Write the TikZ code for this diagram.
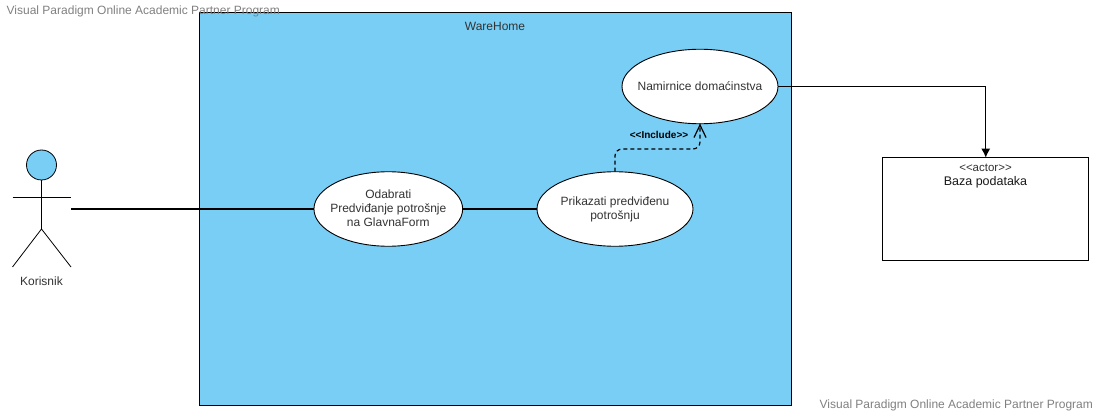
\documentclass[tikz,border=0pt]{standalone}
\usepackage{fontspec}
\setmainfont{Liberation Sans}
\usetikzlibrary{shapes.geometric,arrows.meta,positioning}
\definecolor{sysblue}{HTML}{79CEF5}
\definecolor{txt}{HTML}{333333}
\tikzset{
  usecase/.style={ellipse,draw=black,fill=white,line width=0.9pt,minimum width=156pt,minimum height=74.5pt,inner sep=0pt,outer sep=0pt},
  uctext/.style={inner sep=0pt,align=center,text=txt,font=\fontsize{12}{14}\selectfont},
  syslabel/.style={text=txt,font=\fontsize{12}{15}\selectfont,inner sep=0pt},
  wmark/.style={text=black!50,font=\fontsize{12}{15}\selectfont,inner sep=0pt,anchor=west},
  assoc/.style={draw=black,line width=1.4pt},
  limb/.style={draw=black,line width=0.8pt},
}
\begin{document}
\begin{tikzpicture}[x=1pt,y=-1pt]
\useasboundingbox (0,0) rectangle (1098,414);
\node[draw=black,fill=sysblue,line width=1pt,minimum width=591.5pt,minimum height=392.5pt,inner sep=0pt] (sys) at (495.25,208.75) {};
\node[wmark] (wm1) at (6.5,11) {Visual Paradigm Online Academic Partner Program};
\node[syslabel] (systitle) at (495,26) {WareHome};
\node[usecase] (nam) at (700,86.5) {};
\node[uctext] (namt) at (700,86.5) {Namirnice domaćinstva};
\node[usecase] (pri) at (615,209) {};
\node[uctext] (prit) at (615,209.5) {Prikazati predviđenu\\potrošnju};
\node[usecase,minimum width=148.7pt] (oda) at (388.3,209) {};
\node[uctext] (odat) at (388.3,208.5) {Odabrati\\Predviđanje potrošnje\\na GlavnaForm};
% actor
\node[circle,draw=black,fill=sysblue,line width=0.8pt,minimum size=30pt,inner sep=0pt,outer sep=0pt] (head) at (41.5,165) {};
\coordinate (hip) at (41.5,229);
\coordinate (armL) at (12.5,197);
\coordinate (armR) at (71,197);
\coordinate (legL) at (12.5,267);
\coordinate (legR) at (71,267);
\coordinate (actorend) at (71,209);
\draw[limb] (head.south) -- (hip);
\draw[limb] (armL) -- (armR);
\draw[limb] (legL) -- (hip) -- (legR);
\node[syslabel] (korisnik) at (41.5,281) {Korisnik};
% database box
\node[draw=black,fill=white,line width=0.9pt,minimum width=206pt,minimum height=103pt,inner sep=0pt,outer sep=0pt] (baza) at (985.75,209.25) {};
\node[inner sep=0pt,text=txt,font=\fontsize{11.5}{13}\selectfont] (stereo) at (985.5,167.5) {<{}<actor>{}>};
\node[inner sep=0pt,text=black!90,font=\fontsize{12.5}{15}\selectfont] (bazat) at (985.5,182) {Baza podataka};
% connectors
\draw[assoc] (actorend) -- (oda.west);
\draw[assoc] (oda.east) -- (pri.west);
\draw[assoc,-{Latex[length=9pt,width=9pt]}] (nam.east) -| (baza.north);
\draw[draw=black,line width=1.2pt,dash pattern=on 4pt off 3pt,rounded corners=7pt] (pri.north) -- (615,149) -- (700,149) -- (nam.south);
\draw[draw=black,line width=1.2pt] (694,137.5) -- (700,125) -- (706,137.5);
\node[inner sep=0pt,font=\bfseries\fontsize{10}{12}\selectfont,text=black] (incl) at (659,135) {<{}<Include>{}>};
\node[wmark] (wm2) at (819.5,405) {Visual Paradigm Online Academic Partner Program};
\end{tikzpicture}
\end{document}
